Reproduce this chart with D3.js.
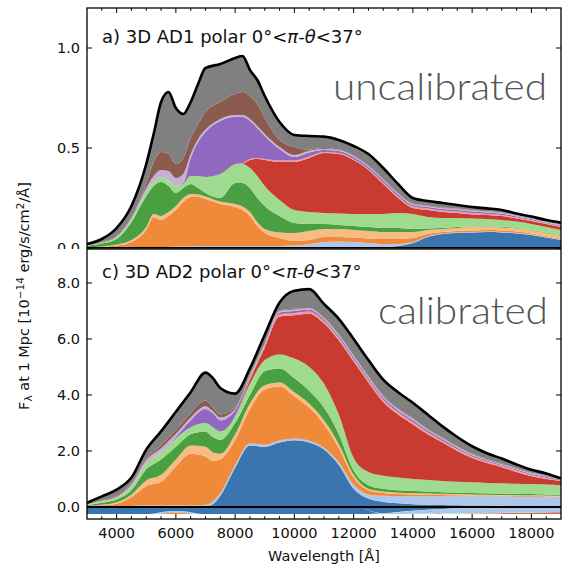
<!DOCTYPE html>
<html><head><meta charset="utf-8">
<script src="https://cdn.jsdelivr.net/npm/d3@7"></script>
<style>body{margin:0;background:#fff}svg{display:block}</style>
</head><body>
<svg id="chart" width="567" height="573"></svg>
<script>
// ---------------- DATA ----------------
const layerKeys = ["blue","lightblue","orange","lightorange","green","lightgreen","red","pink","purple","lightpurple","brown","gray"];

// panel a) uncalibrated
const topWavelength = [3000,3500,4000,4500,5000,5250,5500,5750,6000,6250,6500,6750,7000,7500,8000,8250,8500,8750,9000,9500,10000,10500,11000,11500,12000,12500,13000,13500,14000,14500,15000,15500,16000,16500,17000,17500,18000,18500,19000];
const topBlue = [0,0,0,0,0,0,0,0,0,0,0,0,0,0,0,0,0,0,0,0,0,0,0,0,0,0,.003,.01,.025,.055,.07,.075,.078,.08,.078,.073,.065,.053,.04];
const topLightBlue = [0,0,0,.001,.002,.003,.004,.005,.006,.007,.008,.009,.01,.01,.01,.01,.01,.01,.01,.01,.012,.02,.03,.033,.03,.025,.017,.01,.005,.003,.002,.002,.002,.002,.002,.002,.002,.002,.002];
const topOrange = [.003,.006,.012,.029,.088,.152,.136,.155,.184,.223,.247,.246,.235,.21,.195,.18,.15,.10,.065,.04,.023,.02,.025,.022,.022,.023,.025,.025,.02,.012,.008,.008,.008,.008,.008,.007,.006,.005,.004];
const topLightOrange = [.001,.002,.005,.01,.015,.015,.02,.02,.02,.02,.015,.013,.013,.012,.015,.018,.02,.02,.02,.028,.04,.045,.04,.04,.038,.037,.035,.035,.03,.02,.015,.015,.017,.015,.015,.015,.015,.015,.014];
const topGreen = [.008,.014,.028,.09,.155,.14,.17,.13,.065,.05,.05,.032,.017,.018,.105,.117,.12,.12,.115,.082,.05,.035,.025,.02,.02,.02,.02,.02,.015,.008,.005,.005,.003,.003,.003,.003,.002,.002,.002];
const topLightGreen = [.002,.004,.007,.01,.02,.02,.025,.03,.035,.02,.04,.06,.08,.12,.095,.095,.10,.11,.10,.08,.065,.06,.055,.057,.06,.065,.07,.075,.075,.057,.05,.045,.04,.037,.034,.032,.03,.028,.028];
const topRed = [0,0,0,0,0,0,0,0,0,0,0,0,0,0,0,.002,.04,.085,.13,.19,.24,.27,.30,.298,.27,.22,.15,.075,.03,.035,.03,.025,.02,.02,.02,.016,.015,.015,.015];
const topPink = [0,0,0,0,0,0,0,0,0,0,0,0,0,0,0,.003,.005,.005,.005,.007,.008,.008,.005,.005,.005,.005,.008,.008,.007,.007,.007,.007,.007,.005,.005,.005,.005,.004,.004];
const topPurple = [0,0,0,0,0,0,0,0,0,.005,.09,.17,.225,.265,.235,.23,.19,.15,.115,.058,.017,.02,.01,.01,.01,.01,.01,.01,.008,.008,.008,.008,.007,.007,.006,.005,.005,.004,.004];
const topLightPurple = [.001,.002,.006,.01,.02,.03,.035,.045,.04,.045,.02,.015,.012,.01,.01,.01,.01,.01,.01,.01,.01,.008,.005,.005,.005,.005,.005,.004,.005,.005,.005,.005,.005,.005,.005,.004,.003,.003,.003];
const topBrown = [.001,.002,.004,.005,.02,.07,.09,.085,.07,.08,.08,.075,.088,.085,.105,.115,.115,.11,.08,.035,.04,.006,.005,.002,.002,.002,.002,.002,.002,.002,.002,.002,.002,.002,.002,.002,.002,.002,.002];
const topGray = [.004,.015,.038,.055,.10,.14,.25,.31,.28,.22,.18,.20,.22,.19,.18,.18,.13,.12,.11,.09,.06,.068,.057,.048,.048,.058,.055,.046,.028,.023,.023,.018,.016,.014,.012,.008,.007,.007,.009];

// panel c) calibrated
const bottomWavelength = [3000,3500,4000,4500,5000,5500,6000,6500,7000,7250,7500,8000,8500,9000,9500,10000,10500,11000,11500,12000,12500,13000,13500,14000,14500,15000,15500,16000,16500,17000,17500,18000,18500,19000];
const bottomBlue = [0,0,0,0,0,0,0,0,.02,.10,.40,1.40,2.20,2.15,2.30,2.38,2.30,2.05,1.50,.65,.30,.18,.13,.10,.08,.07,.06,.05,.05,.04,.04,.03,.03,.02];
const bottomLightBlue = [.01,.02,.03,.04,.05,.05,.05,.05,.06,.10,.10,.10,.08,.07,.08,.07,.07,.07,.10,.15,.15,.22,.26,.28,.30,.31,.32,.33,.33,.34,.33,.34,.34,.34];
const bottomOrange = [.02,.04,.09,.31,.70,.85,1.40,1.85,1.72,1.45,1.20,.90,1.22,1.98,1.92,1.50,1.18,.83,.50,.25,.15,.10,.07,.07,.06,.05,.04,.03,.03,.02,.02,.02,.01,.01];
const bottomLightOrange = [.01,.02,.05,.10,.20,.25,.25,.30,.35,.30,.20,.20,.20,.15,.15,.15,.15,.15,.15,.10,.05,.05,.05,.04,.04,.04,.04,.04,.03,.03,.03,.03,.03,.03];
const bottomGreen = [.02,.07,.10,.15,.40,.55,.45,.40,.55,.55,.50,.40,.30,.50,.50,.50,.45,.45,.35,.15,.13,.10,.09,.08,.07,.06,.05,.05,.05,.05,.05,.04,.04,.04];
const bottomLightGreen = [.02,.05,.06,.12,.20,.25,.30,.25,.30,.35,.30,.25,.40,.40,.50,.70,.85,.85,.70,.45,.47,.47,.45,.43,.41,.40,.39,.38,.37,.37,.36,.36,.35,.34];
const bottomRed = [0,0,0,0,0,0,0,0,0,0,0,0,.15,.45,1.35,1.55,1.90,2.15,2.65,3.45,3.20,2.63,2.25,1.95,1.64,1.37,1.10,.87,.71,.57,.42,.28,.20,.15];
const bottomPink = [0,0,0,0,0,0,0,0,0,0,0,0,.05,.05,.08,.08,.08,.08,.08,.08,.08,.08,.08,.08,.07,.06,.06,.05,.05,.05,.05,.04,.04,.02];
const bottomPurple = [0,0,0,0,0,0,.05,.25,.50,.50,.40,.20,.05,.03,.07,.07,.07,.07,.07,.07,.07,.07,.07,.07,.06,.06,.06,.05,.04,.04,.04,.04,.04,.02];
const bottomLightPurple = [.01,.02,.04,.08,.13,.15,.12,.10,.10,.07,.10,.05,.05,.04,.05,.05,.05,.05,.05,.05,.05,.05,.05,.05,.04,.04,.03,.03,.03,.03,.03,.03,.02,.01];
const bottomBrown = [.01,.02,.03,.05,.07,.10,.13,.15,.20,.13,.10,.05,.02,.02,.02,.03,.02,.02,.02,.02,.02,.02,.02,.02,.02,.02,.02,.02,.02,.02,.02,.01,.01,.005];
const bottomGray = [.05,.14,.22,.20,.30,.50,.65,.75,1.00,1.05,.95,.50,.23,.31,.28,.64,.66,.48,.55,.58,.58,.58,.58,.55,.51,.40,.33,.27,.21,.17,.13,.11,.09,.035];

// negative contributions in panel c)
const negWavelength = [3000,5000,5250,5500,5750,6000,6250,6500,6750,7000,12000,13000,14000,15000,16000,17000,18000,19000];
const negBlue = [-.25,-.25,-.24,-.19,-.16,-.15,-.16,-.19,-.24,-.25,-.25,-.22,-.13,-.07,-.04,-.03,-.02,-.01];
const negLightBlue = [0,0,-.01,-.04,-.05,-.05,-.05,-.04,-.01,0,0,-.03,-.11,-.16,-.18,-.18,-.18,-.18];
const negOrange = [0,0,0,-.02,-.04,-.05,-.04,-.02,0,0,0,0,0,0,0,0,0,0];
const negLightGreen = [0,0,0,0,0,0,0,0,0,0,0,0,-.005,-.01,-.01,-.01,-.01,-.01];
const negRed = [0,0,0,0,0,0,0,0,0,0,0,0,0,-.005,-.015,-.025,-.035,-.045];

const xTicksMajor = [4000,6000,8000,10000,12000,14000,16000,18000];
const topYTicks = [0.0,0.5,1.0];
const bottomYTicks = [0.0,2.0,4.0,6.0,8.0];

// ---------------- STYLE ----------------
const colors = {blue:"#3a75b0",lightblue:"#aec7e8",orange:"#f08a3b",lightorange:"#f7bc83",green:"#4aa040",lightgreen:"#9edb8e",red:"#c93a31",pink:"#f29a96",purple:"#9068bf",lightpurple:"#c5b0d6",brown:"#8c5b4f",gray:"#808080"};
const FONT = "DejaVu Sans, Verdana, sans-serif";

const svg = d3.select("#chart");
const defs = svg.append("defs");
const X0 = 87, X1 = 561;
const x = d3.scaleLinear().domain([3000,19000]).range([X0,X1]);

function makeRows(wl, arrays, keys){
  return wl.map((w,i)=>{ const r={w}; keys.forEach((k,j)=>r[k]=arrays[j][i]); return r; });
}

function drawPanel(cfg){
  const {id, top, bottom, y, wl, arrays, neg} = cfg;
  defs.append("clipPath").attr("id","plot-"+id).append("rect")
    .attr("x",X0).attr("y",top).attr("width",X1-X0).attr("height",bottom-top);
  defs.append("clipPath").attr("id","all-"+id).append("rect")
    .attr("x",0).attr("y",cfg.clipTop).attr("width",567).attr("height",cfg.clipBottom-cfg.clipTop);
  const gAll = svg.append("g").attr("clip-path",`url(#all-${id})`);
  gAll.append("rect").attr("x",X0).attr("y",top).attr("width",X1-X0).attr("height",bottom-top).attr("fill","#fff");
  const g = gAll.append("g").attr("clip-path",`url(#plot-${id})`);
  const rows = makeRows(wl, arrays, layerKeys);
  const series = d3.stack().keys(layerKeys)(rows);
  const area = d3.area().x(d=>x(d.data.w)).y0(d=>y(d[0])).y1(d=>y(d[1])).curve(d3.curveMonotoneX);
  g.selectAll("path.layer").data(series).join("path").attr("class","layer")
    .attr("fill",d=>colors[d.key]).attr("d",area);
  if(neg){
    const nrows = makeRows(neg.wl, neg.arrays, neg.keys);
    const nseries = d3.stack().keys(neg.keys).offset(d3.stackOffsetDiverging)(nrows);
    g.selectAll("path.neg").data(nseries).join("path").attr("class","neg")
      .attr("fill",d=>colors[d.key]).attr("d",area);
  }
  const total = rows.map(r=>({w:r.w, v:d3.sum(layerKeys,k=>r[k])}));
  g.append("path").datum(total).attr("fill","none").attr("stroke","#000").attr("stroke-width",2.6)
    .attr("stroke-linejoin","round")
    .attr("d",d3.line().x(d=>x(d.w)).y(d=>y(d.v)).curve(d3.curveMonotoneX));
  g.append("line").attr("x1",X0).attr("x2",X1).attr("y1",y(0)).attr("y2",y(0))
    .attr("stroke","#000").attr("stroke-width",2);
  gAll.append("rect").attr("x",X0).attr("y",top).attr("width",X1-X0).attr("height",bottom-top)
    .attr("fill","none").attr("stroke","#000").attr("stroke-width",1.3);
  const xt = d3.range(3500,19000,500);
  cfg.xTickEdges.forEach(edge=>{
    const ey = edge==="top"?top:bottom, dir = edge==="top"?1:-1;
    gAll.selectAll(null).data(xt).join("line")
      .attr("x1",d=>x(d)).attr("x2",d=>x(d)).attr("y1",ey)
      .attr("y2",d=>ey+dir*(d%2000===0?5:2.8)).attr("stroke","#000").attr("stroke-width",1);
  });
  [X0,X1].forEach((ex,i)=>{
    const dir = i===0?1:-1;
    gAll.selectAll(null).data(cfg.yTicks).join("line")
      .attr("x1",ex).attr("x2",ex+dir*5).attr("y1",d=>y(d)).attr("y2",d=>y(d))
      .attr("stroke","#000").attr("stroke-width",1);
  });
  gAll.selectAll(null).data(cfg.yTicks).join("text")
    .attr("x",X0-7).attr("y",d=>y(d)+5.3).attr("text-anchor","end")
    .attr("font-family",FONT).attr("font-size",14.5).attr("fill","#111")
    .text(d=>d.toFixed(1));
  const t = gAll.append("text").attr("x",102).attr("y",cfg.titleY)
    .attr("font-family",FONT).attr("font-size",18).attr("fill","#111");
  t.append("tspan").text(cfg.titleText + " 0°<");
  t.append("tspan").attr("font-style","italic").text("π");
  t.append("tspan").text("-");
  t.append("tspan").attr("font-style","italic").text("θ");
  t.append("tspan").text("<37°");
  gAll.append("text").attr("x",cfg.noteX).attr("y",cfg.noteY)
    .attr("font-family","Lato, 'Open Sans', sans-serif").attr("font-weight",300)
    .attr("font-size",38).attr("fill","#555")
    .attr("textLength",cfg.noteW).attr("lengthAdjust","spacingAndGlyphs")
    .text(cfg.note);
}

const yTop = d3.scaleLinear().domain([0,1.2]).range([248,8]);
drawPanel({
  id:"a", top:8, bottom:248, y:yTop, clipTop:0, clipBottom:249,
  wl:topWavelength,
  arrays:[topBlue,topLightBlue,topOrange,topLightOrange,topGreen,topLightGreen,topRed,topPink,topPurple,topLightPurple,topBrown,topGray],
  xTickEdges:["top"], yTicks:topYTicks,
  titleText:"a) 3D AD1 polar", titleY:43,
  note:"uncalibrated", noteX:333, noteY:100, noteW:214
});

const yBot = d3.scaleLinear().domain([-0.4286, 9.214]).range([519,249]);
drawPanel({
  id:"c", top:249, bottom:519, y:yBot, clipTop:248, clipBottom:573,
  wl:bottomWavelength,
  arrays:[bottomBlue,bottomLightBlue,bottomOrange,bottomLightOrange,bottomGreen,bottomLightGreen,bottomRed,bottomPink,bottomPurple,bottomLightPurple,bottomBrown,bottomGray],
  neg:{wl:negWavelength, keys:["blue","lightblue","orange","lightgreen","red"], arrays:[negBlue,negLightBlue,negOrange,negLightGreen,negRed]},
  xTickEdges:["bottom"], yTicks:bottomYTicks,
  titleText:"c) 3D AD2 polar", titleY:278,
  note:"calibrated", noteX:378, noteY:324, noteW:170
});

svg.selectAll(null).data(xTicksMajor).join("text")
  .attr("x",d=>x(d)).attr("y",538).attr("text-anchor","middle")
  .attr("font-family",FONT).attr("font-size",14.5).attr("fill","#111")
  .text(d=>d);
svg.append("text").attr("x",(X0+X1)/2).attr("y",561).attr("text-anchor","middle")
  .attr("font-family",FONT).attr("font-size",14.5).attr("fill","#111").text("Wavelength [Å]");
const yl = svg.append("text").attr("transform","translate(29,296) rotate(-90)")
  .attr("text-anchor","middle").attr("font-family",FONT).attr("font-size",14.5).attr("fill","#111");
yl.append("tspan").text("F");
yl.append("tspan").attr("font-size",10.5).attr("dy",3).text("λ");
yl.append("tspan").attr("dy",-3).text(" at 1 Mpc [10");
yl.append("tspan").attr("font-size",10.5).attr("dy",-5.5).text("−14");
yl.append("tspan").attr("dy",5.5).text(" erg/s/cm");
yl.append("tspan").attr("font-size",10.5).attr("dy",-5.5).text("2");
yl.append("tspan").attr("dy",5.5).text("/Å]");
</script>
</body></html>
